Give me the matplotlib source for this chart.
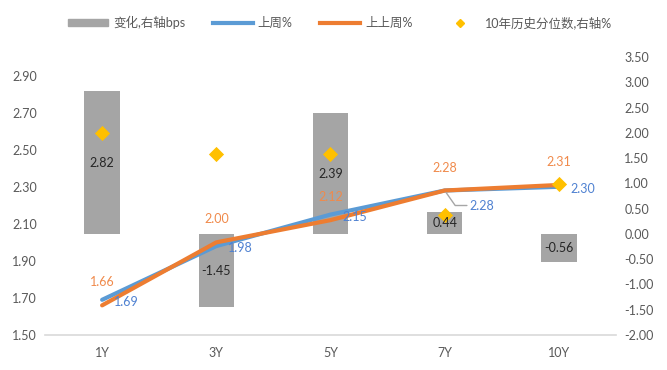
import matplotlib
matplotlib.use("Agg")
import matplotlib.pyplot as plt
from matplotlib.lines import Line2D
from matplotlib.patches import Patch

plt.rcParams['font.family'] = ['Lato', 'Noto Sans CJK SC', 'DejaVu Sans']

tenors = ['1Y', '3Y', '5Y', '7Y', '10Y']
chg_bps = [2.82, -1.45, 2.39, 0.44, -0.56]
last_week = [1.69, 1.98, 2.15, 2.28, 2.30]
prev_week = [1.66, 2.00, 2.12, 2.28, 2.31]
pct_10y = [2.00, 1.58, 1.58, 0.38, 0.98]

grey = '#A5A5A5'
blue = '#5B9BD5'
orange = '#ED7D31'
gold = '#FFC000'
txt = '#595959'

x = list(range(len(tenors)))

fig = plt.figure(figsize=(6.67, 3.70), dpi=100)
ax_bar = fig.add_axes([0.0675, 0.0946, 0.856, 0.751])
ax_line = ax_bar.twinx()
ax_dia = ax_bar.twinx()

# bars (right axis)
ax_bar.bar(x, chg_bps, width=0.31, color=grey, zorder=1)
ax_bar.set_ylim(-2.0, 3.5)
ax_bar.set_yticks([-2.0 + 0.5 * i for i in range(12)])
ax_bar.yaxis.tick_right()
ax_bar.yaxis.set_major_formatter(lambda v, p: f'{v:.2f}')

# lines (left axis)
ax_line.plot(x, last_week, color=blue, lw=3, solid_capstyle='round', zorder=2)
ax_line.plot(x, prev_week, color=orange, lw=3, solid_capstyle='round', zorder=3)
ax_line.set_ylim(1.5, 3.0)
ax_line.set_yticks([1.5 + 0.2 * i for i in range(8)])
ax_line.yaxis.tick_left()
ax_line.yaxis.set_major_formatter(lambda v, p: f'{v:.2f}')

# diamonds (right axis)
ax_dia.scatter(x, pct_10y, marker='D', s=60, color=gold, zorder=4, linewidths=0)
ax_dia.set_ylim(-2.0, 3.5)
ax_dia.set_yticks([])

for a in (ax_bar, ax_line, ax_dia):
    a.set_xlim(-0.5, 4.5)
    for s in a.spines.values():
        s.set_visible(False)
    a.tick_params(length=0, labelsize=9, colors=txt, pad=6)
ax_bar.spines['bottom'].set_visible(True)
ax_bar.spines['bottom'].set_color('#D9D9D9')
ax_bar.spines['bottom'].set_linewidth(1.2)
ax_bar.set_xticks(x)
ax_bar.set_xticklabels(tenors)
ax_bar.tick_params(axis='x', pad=9)

# bar labels
for xi, v in zip(x, chg_bps):
    ax_dia.text(xi, v / 2, f'{v:.2f}', ha='center', va='center',
                fontsize=9, color='#262626', zorder=5)

# line labels
blue_lbl = '#4F81D1'
orange_lbl = '#F08A4B'
for i, v in enumerate(last_week):
    if i == 3:
        ax_line.annotate(f'{v:.2f}', (x[i], v), xytext=(25, -15),
                         textcoords='offset pixels', ha='left', va='center',
                         fontsize=9, color=blue_lbl,
                         arrowprops=dict(arrowstyle='-', color='#A6A6A6', lw=1,
                                         shrinkA=0, shrinkB=2,
                                         connectionstyle='angle,angleA=0,angleB=-55'))
    else:
        ax_line.annotate(f'{v:.2f}', (x[i], v), xytext=(12, -2),
                         textcoords='offset pixels', ha='left', va='center',
                         fontsize=9, color=blue_lbl)
for i, v in enumerate(prev_week):
    ax_line.annotate(f'{v:.2f}', (x[i], v), xytext=(0, 23),
                     textcoords='offset pixels', ha='center', va='center',
                     fontsize=9, color=orange_lbl)

handles = [
    Patch(color=grey),
    Line2D([], [], color=blue, lw=3),
    Line2D([], [], color=orange, lw=3),
    Line2D([], [], color=gold, marker='D', markersize=4, lw=0),
]
labels = ['变化,右轴bps', '上周%', '上上周%', '10年历史分位数,右轴%']
fig.legend(handles, labels, loc='center', bbox_to_anchor=(0.51, 0.94), ncol=4,
           frameon=False, fontsize=9, labelcolor=txt, handlelength=3.2,
           handleheight=0.5, columnspacing=2.2, handletextpad=0.4)

fig.savefig('out.png', dpi=100)
